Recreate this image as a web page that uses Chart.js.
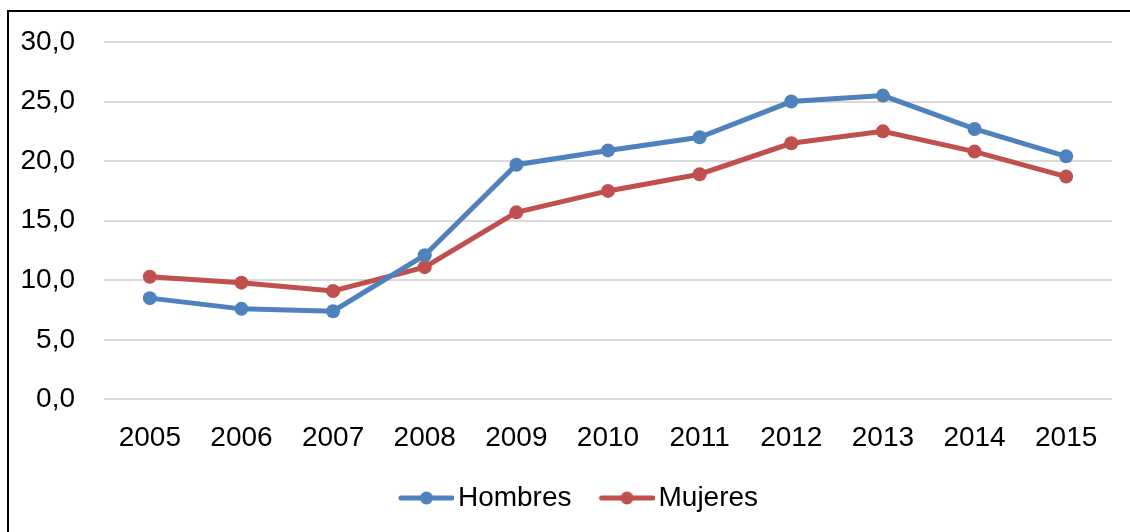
<!DOCTYPE html>
<html>
<head>
<meta charset="utf-8">
<script src="https://cdn.jsdelivr.net/npm/chart.js@4"></script>
<style>
  html, body { margin: 0; padding: 0; background: #fff; overflow: hidden; }
  #wrap { position: relative; width: 1130px; height: 532px; }
  #frame { position: absolute; left: 7px; top: 10px; width: 1200px; height: 600px; border: 2px solid #000; box-sizing: border-box; }
  canvas { position: absolute; left: 0; top: 0; }
</style>
</head>
<body>
<div id="wrap">
  <div id="frame"></div>
  <canvas id="chart" width="1130" height="532"></canvas>
</div>
<script>
  const years = ["2005", "2006", "2007", "2008", "2009", "2010", "2011", "2012", "2013", "2014", "2015"];
  const hombres = [8.5, 7.6, 7.4, 12.1, 19.7, 20.9, 22.0, 25.0, 25.5, 22.7, 20.4];
  const mujeres = [10.3, 9.8, 9.1, 11.1, 15.7, 17.5, 18.9, 21.5, 22.5, 20.8, 18.7];

  const BLUE = "#4f81bd";
  const RED = "#c0504d";
  const FONT = "'Liberation Sans Narrow', 'Arial Narrow', 'Liberation Sans', Arial, sans-serif";
  const FONT_SIZE = 28;

  // legend marker: short line with a dot, drawn on the right part of the canvas
  // so it sits close to its text
  function legendMarker(color) {
    const c = document.createElement("canvas");
    c.width = 86;
    c.height = 16;
    const g = c.getContext("2d");
    g.strokeStyle = color;
    g.lineWidth = 5;
    g.lineCap = "round";
    g.beginPath();
    g.moveTo(33, 8);
    g.lineTo(84, 8);
    g.stroke();
    g.fillStyle = color;
    g.beginPath();
    g.arc(58.5, 8, 6.5, 0, Math.PI * 2);
    g.fill();
    return c;
  }
  const markers = [legendMarker(BLUE), legendMarker(RED)];

  // the legend in the original sits a bit right of the canvas centre
  const legendShiftPlugin = {
    id: "legendShift",
    afterLayout(chart) {
      if (chart.legend) {
        chart.legend.left += 12;
        chart.legend.right += 12;
      }
    }
  };

  new Chart(document.getElementById("chart"), {
    type: "line",
    plugins: [legendShiftPlugin],
    data: {
      labels: years,
      datasets: [
        {
          label: "Hombres",
          data: hombres,
          borderColor: BLUE,
          backgroundColor: BLUE,
          borderWidth: 5,
          pointRadius: 7,
          pointBorderWidth: 0,
          tension: 0
        },
        {
          label: "Mujeres",
          data: mujeres,
          borderColor: RED,
          backgroundColor: RED,
          borderWidth: 5,
          pointRadius: 7,
          pointBorderWidth: 0,
          tension: 0
        }
      ]
    },
    options: {
      responsive: false,
      animation: false,
      layout: {
        padding: { left: 0, right: 18, top: 42, bottom: 10 }
      },
      plugins: {
        tooltip: { enabled: false },
        legend: {
          position: "bottom",
          labels: {
            color: "#000",
            font: { family: FONT, size: FONT_SIZE },
            usePointStyle: true,
            pointStyleWidth: 66,
            padding: 7,
            generateLabels(chart) {
              return chart.data.datasets.map((ds, i) => ({
                text: ds.label,
                pointStyle: markers[i],
                fillStyle: ds.borderColor,
                strokeStyle: ds.borderColor,
                lineWidth: 0,
                datasetIndex: i,
                fontColor: "#000"
              }));
            }
          }
        }
      },
      scales: {
        x: {
          offset: true,
          grid: { display: false, drawTicks: false },
          border: { display: false },
          ticks: {
            color: "#000",
            font: { family: FONT, size: FONT_SIZE },
            padding: 22,
            maxRotation: 0
          }
        },
        y: {
          min: 0,
          max: 30,
          afterFit(scale) {
            scale.width = 104;
            scale.paddingTop = 0;
            scale.paddingBottom = 0;
          },
          grid: { color: "#d9d9d9", lineWidth: 2, drawTicks: false },
          border: { display: false },
          ticks: {
            stepSize: 5,
            color: "#000",
            font: { family: FONT, size: FONT_SIZE },
            padding: 29,
            callback: (v) => v.toFixed(1).replace(".", ",")
          }
        }
      }
    }
  });
</script>
</body>
</html>
